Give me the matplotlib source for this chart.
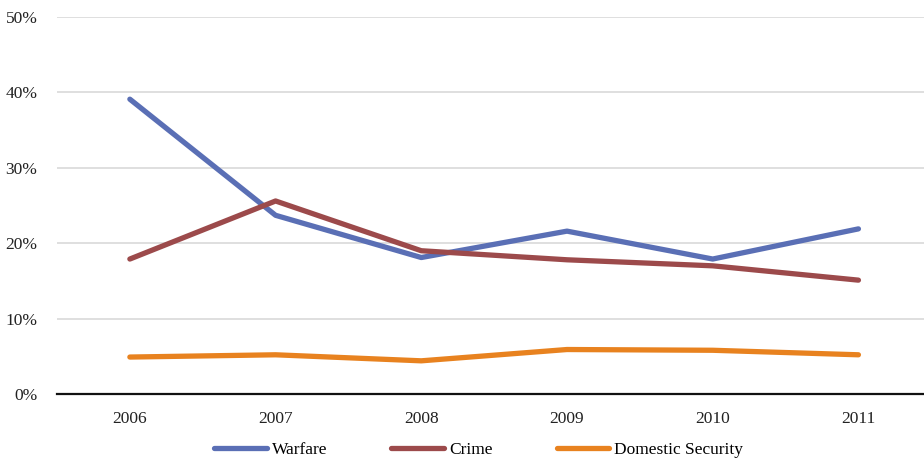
#!/usr/bin/env python3

import matplotlib

matplotlib.use("Agg")
import matplotlib.pyplot as plt
from matplotlib.ticker import FuncFormatter

years = ["2006", "2007", "2008", "2009", "2010", "2011"]
warfare = [39.1, 23.7, 18.1, 21.6, 17.9, 21.9]
crime = [17.9, 25.6, 19.0, 17.8, 17.0, 15.1]
domestic_security = [4.9, 5.2, 4.4, 5.9, 5.8, 5.2]

plt.rcParams["font.family"] = ["Liberation Serif", "DejaVu Serif"]


def draw():
    fig = plt.figure(figsize=(9.24, 4.62), dpi=100)
    ax = fig.add_axes([57 / 924, 68 / 462, 1 - 57 / 924, 377 / 462])

    x = range(len(years))
    series = [
        (warfare, "Warfare", "#5a6fb5"),
        (crime, "Crime", "#9c4a4b"),
        (domestic_security, "Domestic Security", "#e8821f"),
    ]
    for values, label, color in series:
        ax.plot(x, values, color=color, lw=3.8, label=label,
                solid_capstyle="round", solid_joinstyle="round")

    ax.set_ylim(0, 50)
    ax.set_yticks(range(0, 51, 10))
    ax.yaxis.set_major_formatter(FuncFormatter(lambda v, _: f"{v:.0f}%"))
    ax.set_xlim(-0.5, 5.45)
    ax.set_xticks(list(x))
    ax.set_xticklabels(years)

    ax.grid(axis="y", color="#d9d9d9", lw=1.2)
    ax.set_axisbelow(True)
    for side in ["top", "right", "left"]:
        ax.spines[side].set_visible(False)
    ax.spines["bottom"].set_color("#111111")
    ax.spines["bottom"].set_linewidth(1.6)
    ax.spines["bottom"].set_zorder(3)
    ax.tick_params(axis="both", length=0, labelsize=12.5, colors="#222222")
    ax.tick_params(axis="x", pad=12)
    ax.tick_params(axis="y", pad=14)

    fig.legend(loc="lower center", bbox_to_anchor=(0.518, -0.026), ncol=3,
               frameon=False, fontsize=12.5, handlelength=3.0,
               handletextpad=0.3, columnspacing=3.7)

    fig.savefig("out.png", dpi=100)


if __name__ == "__main__":
    draw()
